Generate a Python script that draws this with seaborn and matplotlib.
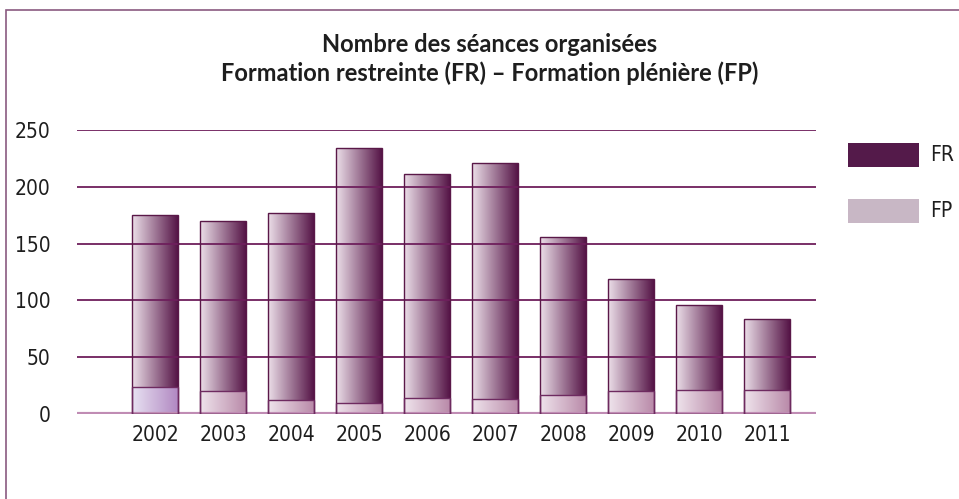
import numpy as np
import pandas as pd
import matplotlib
matplotlib.use("Agg")
import matplotlib.pyplot as plt
import seaborn as sns
from matplotlib.colors import LinearSegmentedColormap
from matplotlib.patches import Rectangle
from matplotlib import font_manager

years = ["2002", "2003", "2004", "2005", "2006", "2007", "2008", "2009", "2010", "2011"]
fr = [151, 150, 165, 224, 197, 208, 139, 99, 75, 63]
fp = [24, 20, 12, 10, 14, 13, 17, 20, 21, 21]
yticks = [0, 50, 100, 150, 200, 250]
title_lines = ["Nombre des séances organisées", "Formation restreinte (FR) – Formation plénière (FP)"]
legend_labels = ["FR", "FP"]

sns.set_theme(style="white")
avail = {f.name for f in font_manager.fontManager.ttflist}
narrow = "Liberation Sans Narrow" if "Liberation Sans Narrow" in avail else "DejaVu Sans"
plt.rcParams["font.family"] = [narrow, "DejaVu Sans"]
plt.rcParams["font.stretch"] = "condensed"

df = pd.DataFrame({"year": years, "FR": fr, "FP": fp})
df["total"] = df["FR"] + df["FP"]

fig = plt.figure(figsize=(9.59, 4.99), dpi=100)
ax = fig.add_axes([77 / 959, 1 - 414 / 499, (816 - 77) / 959, (414 - 130) / 499])

sns.barplot(data=df, x="year", y="total", ax=ax, width=0.67, color="#7a3a6a",
            edgecolor="#5a1848", linewidth=1.0)
n_tot = len(ax.patches)
sns.barplot(data=df, x="year", y="FP", ax=ax, width=0.67, color="#c8b7c5",
            edgecolor="#6e2a60", linewidth=1.0)


def grad_fill(patch, c0, c1):
    x0, y0 = patch.get_x(), patch.get_y()
    w, h = patch.get_width(), patch.get_height()
    cmap = LinearSegmentedColormap.from_list("g", [c0, c1])
    img = ax.imshow(np.linspace(0, 1, 256).reshape(1, -1), cmap=cmap,
                    extent=[x0, x0 + w, y0, y0 + h], aspect="auto",
                    zorder=2, interpolation="bilinear")
    img.set_clip_path(patch)
    patch.set_facecolor("none")
    patch.set_zorder(3)


for i, p in enumerate(ax.patches[:n_tot]):
    grad_fill(p, "#ecdfe9", "#551446")
for i, p in enumerate(ax.patches[n_tot:]):
    if i == 0:
        grad_fill(p, "#e8e2f2", "#b188c2")
    else:
        grad_fill(p, "#efe4ec", "#b98aa9")

ax.set_xlim(-1.15, 9.72)
ax.set_ylim(0, 250)
ax.set_aspect("auto")

for yv in yticks[1:]:
    ax.axhline(yv, color="#6e1f5c", lw=1.3, zorder=2.5)
ax.axhline(0, color="#c08cb4", lw=3, zorder=2.5)

for s in ax.spines.values():
    s.set_visible(False)
ax.set_yticks(yticks)
ax.set_xlabel("")
ax.set_ylabel("")
ax.tick_params(axis="y", length=0, pad=19, labelsize=15, labelcolor="#1e1e1e")
ax.tick_params(axis="x", length=0, pad=8, labelsize=15, labelcolor="#1e1e1e")

fig.text(490 / 959, 1 - 45 / 499, title_lines[0], ha="center", va="center",
         fontsize=17, fontweight="bold", family=["Lato", "DejaVu Sans"], color="#1e1e1e")
fig.text(490 / 959, 1 - 73 / 499, title_lines[1], ha="center", va="center",
         fontsize=17, fontweight="bold", family=["Lato", "DejaVu Sans"], color="#1e1e1e")

# legend
for lbl, col, yc in zip(legend_labels, ["#541a4a", "#c8b7c5"], [155, 211]):
    fig.add_artist(Rectangle((848 / 959, 1 - (yc + 11.5) / 499), 71 / 959, 23 / 499,
                             transform=fig.transFigure, facecolor=col, edgecolor="none"))
    fig.text(930 / 959, 1 - yc / 499, lbl, ha="left", va="center", fontsize=15, color="#1e1e1e")

# frame
fig.add_artist(Rectangle((6 / 959, -0.1), 1.2, 1 - 10 / 499 + 0.1, transform=fig.transFigure,
                         facecolor="none", edgecolor="#8a5a80", lw=1.2))

fig.savefig("out.png", dpi=100)
